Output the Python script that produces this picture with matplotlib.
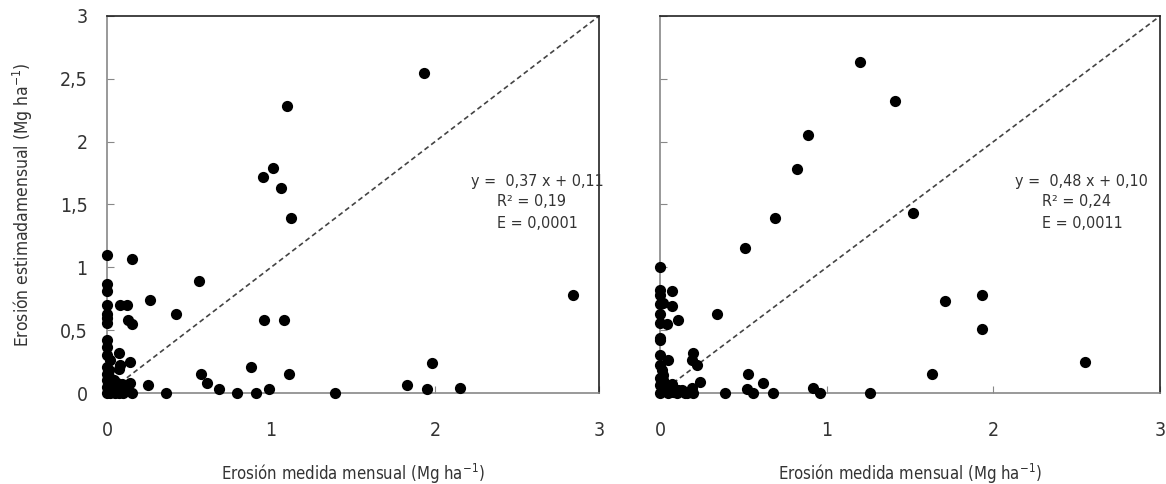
import matplotlib
matplotlib.use("Agg")
from matplotlib import pyplot as plt

plt.rcParams['font.family'] = ['DejaVu Sans']
plt.rcParams['font.stretch'] = 'condensed'

# left panel: measured vs estimated monthly erosion
x_left = [1.93, 1.10, 1.01, 0.95, 1.06, 1.12, 0.00, 0.15, 0.56, 0.00, 0.00, 0.26, 0.00, 0.08,
          0.12, 0.42, 0.00, 0.00, 0.00, 0.13, 0.15, 0.96, 1.08, 2.84, 0.00, 0.00, 0.07, 0.00,
          0.02, 0.14, 0.08, 0.07, 0.00, 0.88, 1.98, 0.57, 1.11, 0.61, 0.25, 0.68, 0.79, 0.91,
          0.99, 0.36, 1.39, 1.83, 1.95, 2.15, 0.14, 0.15,
          0.00, 0.00, 0.00, 0.00, 0.02, 0.03, 0.04, 0.05, 0.06, 0.08, 0.10, 0.10, 0.02, 0.07,
          0.12, 0.01, 0.04, 0.09]
y_left = [2.55, 2.28, 1.79, 1.72, 1.63, 1.39, 1.10, 1.07, 0.89, 0.87, 0.81, 0.74, 0.70, 0.70,
          0.70, 0.63, 0.63, 0.60, 0.56, 0.58, 0.55, 0.58, 0.58, 0.78, 0.42, 0.37, 0.32, 0.30,
          0.26, 0.25, 0.22, 0.19, 0.21, 0.21, 0.24, 0.15, 0.15, 0.08, 0.06, 0.03, 0.00, 0.00,
          0.03, 0.00, 0.00, 0.06, 0.03, 0.04, 0.08, 0.00,
          0.15, 0.10, 0.05, 0.00, 0.12, 0.06, 0.02, 0.00, 0.08, 0.04, 0.02, 0.00, 0.00, 0.00,
          0.05, 0.18, 0.10, 0.07]

# right panel
x_right = [1.20, 1.41, 0.89, 0.82, 1.52, 0.69, 0.51, 0.00, 0.00, 0.00, 0.075, 0.00, 0.02,
           0.07, 0.34, 0.00, 0.11, 0.00, 0.04, 1.71, 1.93, 1.93, 0.00, 0.00, 0.00, 0.20,
           0.19, 0.22, 0.05, 0.00, 0.01, 2.55, 1.63, 0.53, 0.62, 0.24, 0.39, 0.52, 0.56,
           0.68, 0.92, 0.96, 1.26, 0.19, 0.15, 0.11, 0.075, 0.04,
           0.00, 0.00, 0.00, 0.02, 0.03, 0.05, 0.06, 0.08, 0.10, 0.13, 0.16, 0.20, 0.02]
y_right = [2.63, 2.32, 2.05, 1.78, 1.43, 1.39, 1.15, 1.00, 0.82, 0.78, 0.81, 0.71, 0.72,
           0.69, 0.63, 0.63, 0.58, 0.56, 0.55, 0.73, 0.78, 0.51, 0.44, 0.42, 0.30, 0.32,
           0.26, 0.22, 0.26, 0.22, 0.18, 0.245, 0.15, 0.15, 0.08, 0.09, 0.00, 0.03, 0.00,
           0.00, 0.04, 0.00, 0.00, 0.04, 0.00, 0.02, 0.07, 0.03,
           0.12, 0.06, 0.00, 0.10, 0.03, 0.00, 0.04, 0.01, 0.00, 0.02, 0.00, 0.00, 0.14]

ticks = [0, 0.5, 1, 1.5, 2, 2.5, 3]
ytick_labels = ['0', '0,5', '1', '1,5', '2', '2,5', '3']
xticks = [0, 1, 2, 3]
xtick_labels = ['0', '1', '2', '3']

eq_left = ['y =  0,37 x + 0,11', 'R² = 0,19', 'E = 0,0001']
eq_right = ['y =  0,48 x + 0,10', 'R² = 0,24', 'E = 0,0011']

xlabel = 'Erosión medida mensual (Mg ha$^{\\mathregular{-1}}$)'
ylabel = 'Erosión estimadamensual (Mg ha$^{\\mathregular{-1}}$)'

fig = plt.figure(figsize=(11.66, 4.84), dpi=100)
ax1 = fig.add_axes([0.0918, 0.188, 0.422, 0.779])
ax2 = fig.add_axes([0.566, 0.188, 0.429, 0.779])

txt_col = '#333333'
for ax, xs, ys, eq, tx, show_y in [(ax1, x_left, y_left, eq_left, (2.22, 2.38), True),
                                  (ax2, x_right, y_right, eq_right, (2.13, 2.29), False)]:
    ax.plot([0, 3], [0, 3], color='#444444', linestyle=(0, (3, 2)), linewidth=1.2, zorder=2)
    ax.scatter(xs, ys, s=65, color='black', clip_on=False, zorder=3, linewidths=0)
    ax.set_xlim(0, 3)
    ax.set_ylim(0, 3)
    ax.set_xticks(xticks)
    ax.set_xticklabels(xtick_labels)
    ax.set_yticks(ticks)
    ax.set_yticklabels(ytick_labels if show_y else [])
    ax.tick_params(axis='both', direction='in', length=5, color='#888888',
                   labelsize=14, labelcolor=txt_col)
    ax.tick_params(axis='x', pad=20)
    ax.tick_params(axis='y', pad=14)
    ax.spines['left'].set_color('#888888')
    ax.spines['bottom'].set_color('#888888')
    ax.spines['top'].set_color('#222222')
    ax.spines['right'].set_color('#222222')
    for s in ax.spines.values():
        s.set_linewidth(1.2)
    ax.set_xlabel(xlabel, fontsize=12, color=txt_col, labelpad=16)
    ax.text(tx[0], 1.68, eq[0], fontsize=11.5, color=txt_col, va='center')
    ax.text(tx[1], 1.52, eq[1], fontsize=11.5, color=txt_col, va='center')
    ax.text(tx[1], 1.35, eq[2], fontsize=11.5, color=txt_col, va='center')

ax1.set_ylabel(ylabel, fontsize=12.5, color=txt_col, labelpad=18)

plt.savefig('out.png', dpi=100)
